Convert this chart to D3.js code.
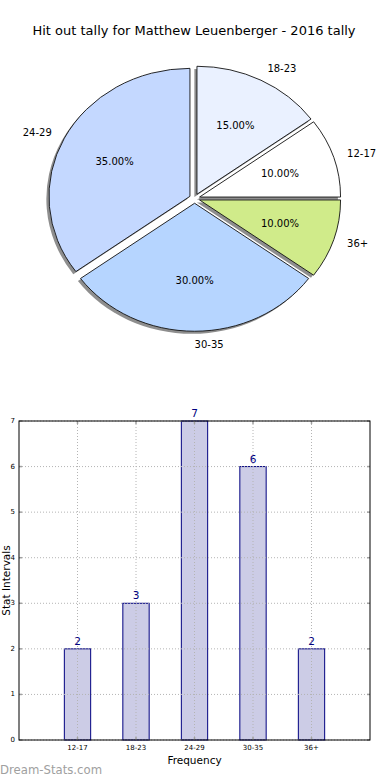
<!DOCTYPE html>
<html>
<head>
<meta charset="utf-8">
<script src="https://cdn.jsdelivr.net/npm/d3@7"></script>
<style>
  html, body { margin: 0; padding: 0; background: #fff; }
  svg { display: block; font-family: 'DejaVu Sans', sans-serif; }
</style>
</head>
<body>
<div id="chart"></div>
<script>
// --- Daten ---
const titleText   = 'Hit out tally for Matthew Leuenberger - 2016 tally';
const pieLabels   = ['18-23', '12-17', '36+', '30-35', '24-29'];
const pieValues   = [15, 10, 10, 30, 35];
const pieColors   = ['#eaf1ff', '#ffffff', '#d0eb8a', '#b6d5ff', '#c4d8ff'];

const barCategories = ['12-17', '18-23', '24-29', '30-35', '36+'];
const barValues     = [2, 3, 7, 6, 2];
const yTicks        = [0, 1, 2, 3, 4, 5, 6, 7];

(function () {
  'use strict';

  const W = 390, H = 780;
  const svg = d3.select('#chart').append('svg')
    .attr('width', W)
    .attr('height', H);

  svg.append('text')
    .attr('x', 194)
    .attr('y', 30)
    .attr('text-anchor', 'middle')
    .attr('dominant-baseline', 'central')
    .attr('font-size', '13px')
    .attr('fill', '#000')
    .text(titleText);

  // --- Kreisdiagramm (leicht elliptisch, explodiert, mit Schatten) ---
  const cx = 194.6, cy = 198.5, R = 128, sx = 141 / 128, explode = 0.037;
  const pie = d3.pie().sort(null).value(d => d)(pieValues);
  const arc = d3.arc().innerRadius(0).outerRadius(R);

  const pg = svg.append('g')
    .attr('transform', `translate(${cx},${cy}) scale(${sx},1)`);

  function offset(d) {
    const a = (d.startAngle + d.endAngle) / 2;
    return [Math.sin(a) * explode * R, -Math.cos(a) * explode * R];
  }

  // Schatten
  pg.selectAll('path.shadow')
    .data(pie)
    .enter()
    .append('path')
    .attr('class', 'shadow')
    .attr('d', arc)
    .attr('fill', '#7a7a7a')
    .attr('fill-opacity', 0.85)
    .attr('transform', d => {
      const o = offset(d);
      return `translate(${o[0] - 2.6 / sx},${o[1] + 2.6})`;
    });

  pg.selectAll('path.slice')
    .data(pie)
    .enter()
    .append('path')
    .attr('class', 'slice')
    .attr('d', arc)
    .attr('fill', (d, i) => pieColors[i])
    .attr('stroke', '#111')
    .attr('stroke-width', 0.9)
    .attr('vector-effect', 'non-scaling-stroke')
    .attr('transform', d => `translate(${offset(d)})`);

  // Beschriftungen
  pie.forEach((d, i) => {
    const a = (d.startAngle + d.endAngle) / 2;
    const s = Math.sin(a), c = Math.cos(a);
    const lr = R * (1.1 + explode);
    svg.append('text')
      .attr('x', cx + sx * lr * s)
      .attr('y', cy - lr * c)
      .attr('text-anchor', s > -1e-6 ? 'start' : 'end')
      .attr('dominant-baseline', 'central')
      .attr('font-size', '10px')
      .text(pieLabels[i]);

    const pr = R * (0.6 + explode);
    svg.append('text')
      .attr('x', cx + sx * pr * s)
      .attr('y', cy - pr * c)
      .attr('text-anchor', 'middle')
      .attr('dominant-baseline', 'central')
      .attr('font-size', '10px')
      .text(d3.format('.2f')(d.data) + '%');
  });

  // --- Balkendiagramm ---
  const left = 19, right = 370, top = 421, bottom = 740;
  const x = d3.scaleLinear().domain([0, barCategories.length + 1]).range([left, right]);
  const y = d3.scaleLinear().domain([0, 7]).range([bottom, top]);
  const barW = 0.45;

  const bg = svg.append('g');

  bg.selectAll('rect.bar')
    .data(barValues)
    .enter()
    .append('rect')
    .attr('class', 'bar')
    .attr('x', (d, i) => x(i + 1 - barW / 2))
    .attr('y', d => y(d))
    .attr('width', x(barW) - x(0))
    .attr('height', d => y(0) - y(d))
    .attr('fill', '#ccccE6')
    .attr('stroke', '#000080')
    .attr('stroke-width', 1);

  // Gitterlinien (über den Balken)
  const grid = bg.append('g')
    .attr('stroke', '#b4b4b4')
    .attr('stroke-width', 1)
    .attr('stroke-dasharray', '1,2');
  yTicks.forEach(t => {
    grid.append('line')
      .attr('x1', left).attr('x2', right)
      .attr('y1', y(t)).attr('y2', y(t));
  });
  barCategories.forEach((c, i) => {
    grid.append('line')
      .attr('x1', x(i + 1)).attr('x2', x(i + 1))
      .attr('y1', top).attr('y2', bottom);
  });

  // Tick-Striche innen
  const ticks = bg.append('g').attr('stroke', '#a0a0a0').attr('stroke-width', 1.5);
  yTicks.forEach(t => {
    ticks.append('line').attr('x1', left).attr('x2', left + 3).attr('y1', y(t)).attr('y2', y(t));
    ticks.append('line').attr('x1', right - 3).attr('x2', right).attr('y1', y(t)).attr('y2', y(t));
  });
  barCategories.forEach((c, i) => {
    ticks.append('line').attr('x1', x(i + 1)).attr('x2', x(i + 1)).attr('y1', top).attr('y2', top + 3);
    ticks.append('line').attr('x1', x(i + 1)).attr('x2', x(i + 1)).attr('y1', bottom - 3).attr('y2', bottom);
  });

  // Rahmen
  bg.append('rect')
    .attr('x', left).attr('y', top)
    .attr('width', right - left).attr('height', bottom - top)
    .attr('fill', 'none')
    .attr('stroke', '#000')
    .attr('stroke-width', 1);

  // Achsenbeschriftungen
  yTicks.forEach(t => {
    bg.append('text')
      .attr('x', left - 4)
      .attr('y', y(t))
      .attr('text-anchor', 'end')
      .attr('dominant-baseline', 'central')
      .attr('font-size', '7px')
      .text(t);
  });
  barCategories.forEach((c, i) => {
    bg.append('text')
      .attr('x', x(i + 1))
      .attr('y', bottom + 8)
      .attr('text-anchor', 'middle')
      .attr('dominant-baseline', 'central')
      .attr('font-size', '7px')
      .text(c);
  });

  // Werte über den Balken
  bg.selectAll('text.val')
    .data(barValues)
    .enter()
    .append('text')
    .attr('class', 'val')
    .attr('x', (d, i) => x(i + 1))
    .attr('y', d => y(d) - 4)
    .attr('text-anchor', 'middle')
    .attr('font-size', '10.5px')
    .attr('fill', '#000080')
    .text(d => d);

  bg.append('text')
    .attr('x', (left + right) / 2)
    .attr('y', 760)
    .attr('text-anchor', 'middle')
    .attr('dominant-baseline', 'central')
    .attr('font-size', '10.5px')
    .text('Frequency');

  bg.append('text')
    .attr('transform', `translate(9.5,${(top + bottom) / 2}) rotate(-90)`)
    .attr('text-anchor', 'middle')
    .attr('font-size', '10.5px')
    .text('Stat Intervals');

  // Wasserzeichen
  svg.append('text')
    .attr('x', 0)
    .attr('y', 770)
    .attr('dominant-baseline', 'central')
    .attr('font-size', '11.7px')
    .attr('fill', '#a0a0a0')
    .text('Dream-Stats.com');
})();
</script>
</body>
</html>
